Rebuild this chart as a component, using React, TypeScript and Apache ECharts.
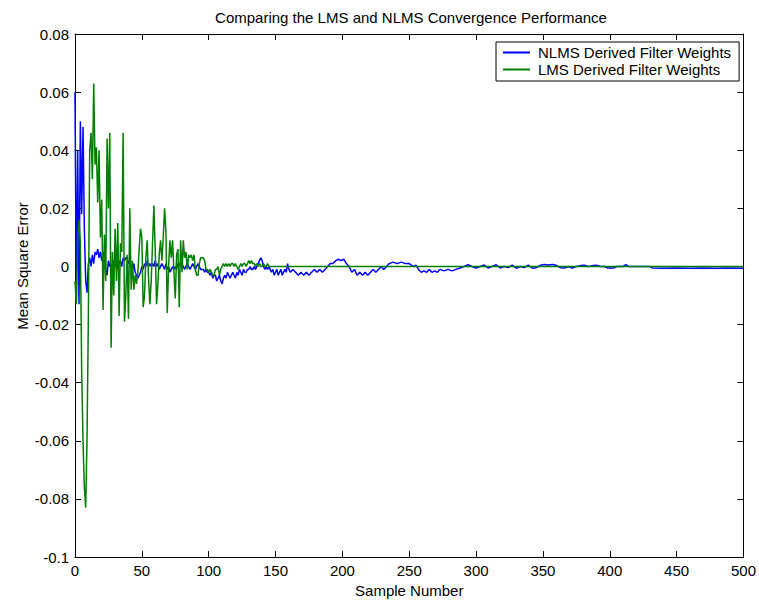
import React, { useEffect, useRef } from "react";
import * as echarts from "echarts";

const FONT = '"Liberation Sans", Arial, sans-serif';

const titleText = "Comparing the LMS and NLMS Convergence Performance";
const xName = "Sample Number";
const yName = "Mean Square Error";
const seriesNames = ["NLMS Derived Filter Weights", "LMS Derived Filter Weights"];

// NLMS error, samples 0..160 (one value per sample)
const nlmsHead: number[] = [
  0.060, -0.012, 0.040, -0.013, 0.050, 0.018, 0.048, 0.013, -0.005, -0.009,
  0.001, 0.003, 0.000, 0.004, 0.001, 0.005, 0.004, 0.006, 0.003, 0.005,
  0.002, 0.004, 0.005, -0.001, -0.003, 0.002, 0.000, 0.001, -0.002, 0.002,
  0.000, 0.002, -0.001, 0.001, 0.002, 0.000, 0.003, 0.002, 0.003, 0.003,
  0.001, 0.002, 0.000, -0.001, 0.001, -0.002, -0.003, -0.004, -0.003, -0.002,
  0.000, -0.001, 0.001, 0.000, 0.002, 0.000, 0.001, 0.000, 0.001, 0.000,
  0.002, 0.000, 0.001, -0.001, 0.000, 0.001, 0.000, -0.001, 0.001, -0.001,
  0.000, -0.002, -0.001, 0.000, -0.001, 0.000, -0.001, 0.001, 0.001, 0.000,
  0.001, 0.000, -0.001, 0.000, 0.001, 0.000, -0.001, 0.000, 0.001, 0.000,
  -0.001, 0.000, 0.001, 0.000, -0.001, -0.001, -0.001, -0.002, -0.001, -0.002,
  -0.002, -0.003, -0.002, -0.004, -0.003, -0.003, -0.005, -0.004, -0.003, -0.005,
  -0.006, -0.004, -0.003, -0.004, -0.002, -0.003, -0.004, -0.003, -0.002, -0.003,
  -0.004, -0.002, -0.003, -0.001, -0.002, -0.003, -0.001, -0.002, -0.002, -0.001,
  -0.001, 0.000, -0.001, -0.001, 0.000, -0.001, 0.000, 0.001, 0.002, 0.003,
  0.002, 0.000, -0.001, 0.000, -0.001, 0.000, -0.001, -0.002, -0.001, -0.003,
  -0.002, -0.001, -0.003, -0.002, -0.001, -0.003, -0.002, -0.001, -0.002, 0.001,
  -0.001,
];

// NLMS error after sample 160, as [sample, value]
const nlmsTail: [number, number][] = [
  [161, -0.002], [163, -0.001], [165, -0.002], [167, -0.003], [169, -0.002], [171, -0.003],
  [173, -0.002], [175, -0.003], [177, -0.002], [179, -0.001], [181, -0.002], [183, -0.001],
  [185, -0.002], [187, -0.001], [189, 0.0], [191, 0.001], [193, 0.001], [195, 0.002],
  [197, 0.0025], [199, 0.002], [201, 0.0025], [203, 0.001], [205, 0.0], [207, -0.002],
  [209, -0.001], [211, -0.003], [213, -0.002], [215, -0.003], [217, -0.002], [219, -0.003],
  [221, -0.002], [223, -0.001], [225, -0.002], [227, -0.001], [229, 0.0], [231, -0.001],
  [233, 0.0], [235, 0.001], [238, 0.0015], [241, 0.001], [244, 0.0015], [247, 0.001],
  [250, 0.001], [253, 0.0], [255, 0.0005], [257, -0.001], [259, -0.002], [261, -0.0015],
  [263, -0.002], [265, -0.001], [267, -0.002], [269, -0.0015], [271, -0.002], [273, -0.001],
  [276, -0.0015], [279, -0.001], [282, -0.0015], [285, -0.001], [288, -0.0005], [291, 0.0],
  [294, 0.0006], [297, 0.0], [300, -0.0005], [303, 0.0], [306, 0.0005], [309, -0.0005],
  [312, 0.0], [315, 0.0006], [318, -0.0005], [321, 0.0], [324, -0.0004], [327, 0.0005],
  [330, -0.0006], [333, 0.0], [336, -0.0004], [339, 0.0005], [342, -0.0006], [345, -0.0004],
  [348, 0.0004], [351, 0.0007], [354, 0.0005], [357, 0.0007], [360, 0.0004], [363, -0.0004],
  [366, -0.0005], [369, 0.0], [372, -0.0005], [375, 0.0], [378, 0.0003], [381, 0.0004],
  [384, 0.0], [387, 0.0003], [390, 0.0004], [393, 0.0], [396, 0.0], [398, -0.0005],
  [403, -0.0005], [405, 0.0], [410, 0.0], [412, 0.0006], [414, 0.0], [430, 0.0],
  [432, -0.0005], [440, -0.0006], [450, -0.0005], [460, -0.0006], [470, -0.0005],
  [480, -0.0006], [490, -0.0005], [500, -0.0006],
];

// LMS error, samples 0..145 (one value per sample)
const lmsHead: number[] = [
  -0.005, -0.013, 0.010, 0.016, 0.008, -0.036, -0.060, -0.076, -0.083, -0.059,
  -0.017, 0.040, 0.046, 0.030, 0.063, 0.035, 0.041, 0.022, 0.040, 0.010,
  0.023, -0.015, 0.011, -0.005, 0.044, 0.020, 0.046, -0.028, 0.005, -0.010,
  0.013, -0.005, 0.015, -0.017, 0.008, 0.005, 0.046, -0.019, -0.010, 0.004,
  -0.018, 0.020, -0.008, 0.002, -0.008, -0.003, -0.006, -0.002, 0.006, 0.013,
  0.010, -0.014, -0.010, 0.003, 0.009, -0.004, -0.013, -0.005, 0.008, 0.021,
  0.006, -0.013, -0.006, 0.004, 0.009, 0.002, 0.010, 0.020, 0.012, -0.016,
  0.000, 0.009, 0.003, 0.009, -0.002, -0.011, 0.004, 0.006, -0.014, 0.009,
  -0.002, 0.009, 0.003, 0.005, -0.001, 0.004, 0.003, 0.004, 0.002, 0.004,
  -0.001, -0.003, -0.003, 0.001, 0.003, 0.003, 0.003, 0.002, -0.001, -0.001,
  -0.002, -0.001, -0.002, -0.003, -0.003, -0.001, -0.001, 0.000, -0.003, -0.001,
  0.000, 0.001, 0.000, 0.001, 0.000, 0.001, 0.000, 0.001, 0.001, 0.000,
  0.001, 0.000, -0.001, 0.000, 0.001, 0.000, 0.001, 0.001, 0.000, 0.001,
  0.002, 0.001, 0.002, 0.001, 0.001, 0.000, 0.001, 0.000, 0.001, 0.000,
  0.000, 0.001, 0.000, 0.000, 0.001, 0.000,
];

const lmsTail: [number, number][] = [
  [146, 0.0], [500, 0.0],
];

const xMin = 0, xMax = 500, xStep = 50;
const yMin = -0.1, yMax = 0.08, yStep = 0.02;

export default function App() {
  const ref = useRef<HTMLDivElement>(null);

  useEffect(() => {
    if (!ref.current) return;
    const chart = echarts.init(ref.current, null, { renderer: "svg" });

    const nlmsData = nlmsHead.map((v, i) => [i, v]).concat(nlmsTail);
    const lmsData = lmsHead.map((v, i) => [i, v]).concat(lmsTail);

    const axisLine = { show: true, onZero: false, lineStyle: { color: "#000", width: 1 } };
    const axisTick = { show: true, inside: true, length: 6, lineStyle: { color: "#000", width: 1 } };
    const labelStyle = { color: "#000", fontSize: 15, fontFamily: FONT };

    const yFmt = (v: number) => {
      const r = Math.round(v * 100) / 100;
      return r === 0 ? "0" : String(r);
    };

    chart.setOption({
      animation: false,
      backgroundColor: "#fff",
      grid: { left: 75, right: 14, top: 34, bottom: 40, containLabel: false },
      graphic: [
        {
          type: "text",
          x: 411,
          y: 17,
          style: {
            text: titleText,
            fill: "#000",
            fontSize: 15,
            fontFamily: FONT,
            align: "center",
            verticalAlign: "middle",
          },
        },
        {
          type: "text",
          x: 22,
          y: 266,
          rotation: Math.PI / 2,
          style: {
            text: yName,
            fill: "#000",
            fontSize: 15,
            fontFamily: FONT,
            align: "center",
            verticalAlign: "middle",
          },
        },
      ],
      legend: {
        orient: "vertical",
        left: 496,
        top: 42,
        backgroundColor: "#fff",
        borderColor: "#000",
        borderWidth: 1,
        borderRadius: 0,
        padding: [2, 8, 3, 7],
        itemGap: 0,
        itemWidth: 27,
        itemHeight: 2,
        icon: "rect",
        textStyle: { color: "#000", fontSize: 15, fontFamily: FONT, padding: [0, 0, 0, 3], lineHeight: 17 },
        data: seriesNames,
      },
      xAxis: [
        {
          type: "value",
          min: xMin,
          max: xMax,
          interval: xStep,
          position: "bottom",
          axisLine,
          axisTick,
          axisLabel: { ...labelStyle, margin: 6 },
          splitLine: { show: false },
          name: xName,
          nameLocation: "middle",
          nameGap: 23,
          nameTextStyle: { ...labelStyle },
        },
        {
          type: "value",
          min: xMin,
          max: xMax,
          interval: xStep,
          position: "top",
          axisLine,
          axisTick,
          axisLabel: { show: false },
          splitLine: { show: false },
        },
      ],
      yAxis: [
        {
          type: "value",
          min: yMin,
          max: yMax,
          interval: yStep,
          position: "left",
          axisLine,
          axisTick,
          axisLabel: { ...labelStyle, margin: 6, formatter: yFmt },
          splitLine: { show: false },
        },
        {
          type: "value",
          min: yMin,
          max: yMax,
          interval: yStep,
          position: "right",
          axisLine,
          axisTick,
          axisLabel: { show: false },
          splitLine: { show: false },
        },
      ],
      series: [
        {
          name: seriesNames[0],
          type: "line",
          xAxisIndex: 0,
          yAxisIndex: 0,
          data: nlmsData,
          symbol: "none",
          showSymbol: false,
          lineStyle: { color: "#0000ff", width: 1.5 },
          itemStyle: { color: "#0000ff" },
        },
        {
          name: seriesNames[1],
          type: "line",
          xAxisIndex: 0,
          yAxisIndex: 0,
          data: lmsData,
          symbol: "none",
          showSymbol: false,
          lineStyle: { color: "#008000", width: 1.5 },
          itemStyle: { color: "#008000" },
        },
      ],
    });

    return () => chart.dispose();
  }, []);

  return (
    <div
      ref={ref}
      style={{ position: "absolute", left: 0, top: 0, width: 759, height: 603 }}
    />
  );
}
